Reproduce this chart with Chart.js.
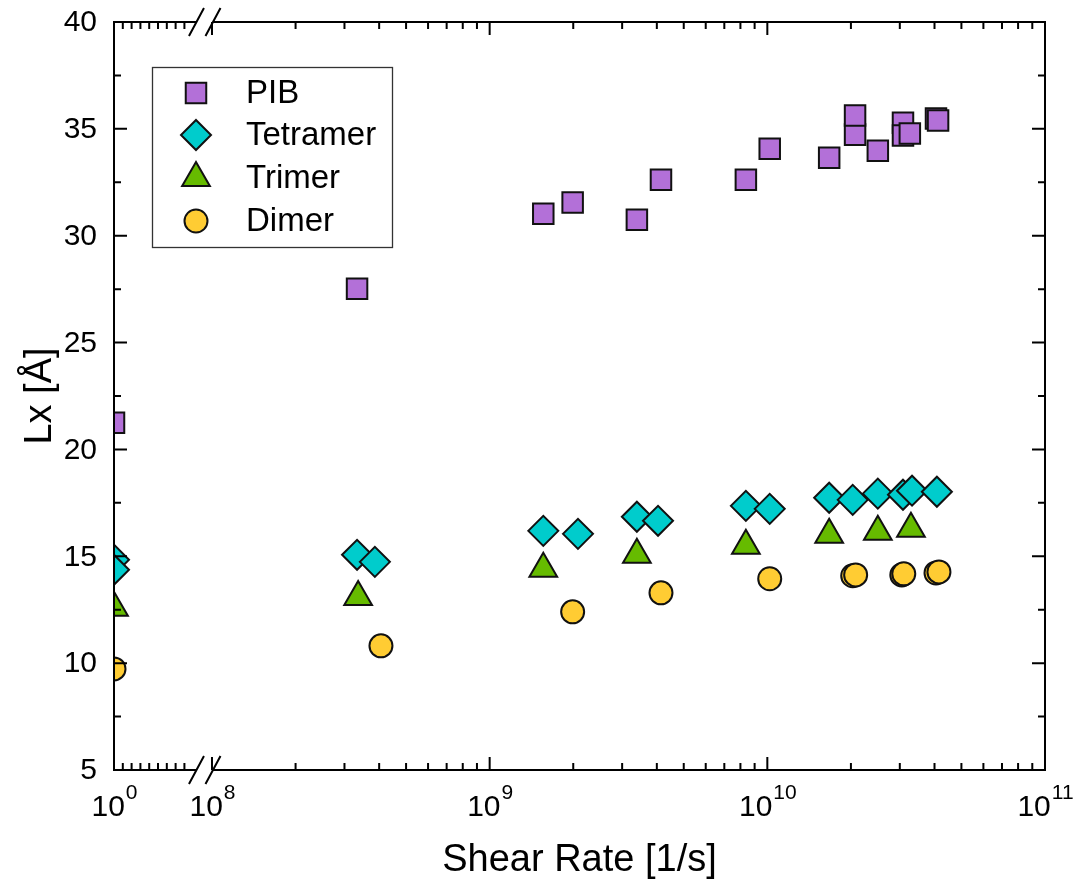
<!DOCTYPE html>
<html>
<head>
<meta charset="utf-8">
<title>Lx vs Shear Rate</title>
<script src="https://cdn.jsdelivr.net/npm/chart.js@4.4.1/dist/chart.umd.min.js"></script>
<style>
  html, body { margin: 0; padding: 0; background: #fff; }
  #wrap { width: 1073px; height: 881px; }
</style>
</head>
<body>
<div id="wrap"><canvas id="chart" width="1073" height="881"></canvas></div>
<script>
// shear rate in 1/s; rate 1 is the equilibrium run, drawn at 10^0
const seriesNames = ['PIB', 'Tetramer', 'Trimer', 'Dimer'];

const pibRate = [1, 3.33e8, 1.56e9, 1.99e9, 3.39e9, 4.14e9, 8.37e9, 1.02e10, 1.67e10, 2.07e10, 2.07e10, 2.50e10, 3.08e10, 3.08e10, 3.26e10, 4.05e10, 4.12e10];
const pibLx   = [21.25, 27.52, 31.03, 31.55, 30.75, 32.62, 32.62, 34.07, 33.65, 34.73, 35.62, 33.98, 35.29, 34.69, 34.78, 35.48, 35.39];

const tetRate = [1, 1, 3.33e8, 3.86e8, 1.56e9, 2.08e9, 3.39e9, 4.04e9, 8.37e9, 1.02e10, 1.67e10, 2.03e10, 2.50e10, 3.08e10, 3.32e10, 4.08e10];
const tetLx   = [14.84, 14.37, 15.07, 14.74, 16.19, 16.05, 16.85, 16.66, 17.36, 17.22, 17.74, 17.64, 17.93, 17.88, 18.07, 18.02];

const triRate = [1, 3.36e8, 1.56e9, 3.39e9, 8.37e9, 1.67e10, 2.50e10, 3.29e10];
const triLx   = [12.59, 13.10, 14.42, 15.07, 15.49, 16.01, 16.15, 16.29];

const dimRate = [1, 4.06e8, 1.99e9, 4.14e9, 1.02e10, 2.03e10, 2.08e10, 3.05e10, 3.10e10, 4.05e10, 4.15e10];
const dimLx   = [9.73, 10.81, 12.40, 13.29, 13.95, 14.09, 14.13, 14.13, 14.18, 14.22, 14.27];

const yTicks = [5, 10, 15, 20, 25, 30, 35, 40];
const xTickExponents = [0, 8, 9, 10, 11];

// broken log axis: 10^0..10^8 squeezed into a short stub, then full decades from 10^8 up
const STUB_DECADE = 0.0317;
const GAP_START = 0.3529;
const BREAK_A = 0.297, BREAK_B = 0.3565;
function axisPos(rate) {
  const d = Math.log10(rate);
  return d < 8 ? d * STUB_DECADE : GAP_START + (d - 8);
}

const styles = [
  { shape: 'rect',     r: 14.5, fill: '#B370D8' },
  { shape: 'rectRot',  r: 15,   fill: '#00CCCC' },
  { shape: 'triangle', r: 16,   fill: '#66BB00' },
  { shape: 'circle',   r: 11.5, fill: '#FFCC33' }
];
const rates = [pibRate, tetRate, triRate, dimRate];
const values = [pibLx, tetLx, triLx, dimLx];

const datasets = seriesNames.map((name, i) => ({
  label: name,
  data: rates[i].map((r, k) => ({ x: axisPos(r), y: values[i][k] })),
  pointStyle: styles[i].shape,
  pointRadius: styles[i].r,
  pointBackgroundColor: styles[i].fill,
  pointBorderColor: '#111',
  pointBorderWidth: 2,
  clip: 0
}));

function marker(ctx, s, x, y) {
  const r = s.r;
  ctx.beginPath();
  if (s.shape === 'rect') {
    const h = r * Math.SQRT1_2;
    ctx.rect(x - h, y - h, 2 * h, 2 * h);
  } else if (s.shape === 'rectRot') {
    ctx.moveTo(x, y - r); ctx.lineTo(x + r, y); ctx.lineTo(x, y + r); ctx.lineTo(x - r, y);
    ctx.closePath();
  } else if (s.shape === 'triangle') {
    ctx.moveTo(x, y - r);
    ctx.lineTo(x + r * 0.866, y + r / 2);
    ctx.lineTo(x - r * 0.866, y + r / 2);
    ctx.closePath();
  } else {
    ctx.arc(x, y, r, 0, Math.PI * 2);
  }
  ctx.fillStyle = s.fill;
  ctx.fill();
  ctx.lineWidth = 2;
  ctx.strokeStyle = '#111';
  ctx.stroke();
}

const FONT = '"Liberation Sans", Arial, sans-serif';

// keep the markers inside the plot frame (points at 10^0 sit on the left axis)
const clipToArea = {
  id: 'clipToArea',
  beforeDatasetsDraw(chart) {
    const a = chart.chartArea;
    chart.ctx.save();
    chart.ctx.beginPath();
    chart.ctx.rect(a.left, a.top, a.right - a.left, a.bottom - a.top);
    chart.ctx.clip();
  },
  afterDatasetsDraw(chart) {
    chart.ctx.restore();
  }
};

const frame = {
  id: 'frame',
  afterDraw(chart) {
    const { ctx, chartArea: a, scales: { x, y } } = chart;
    ctx.save();
    ctx.strokeStyle = '#000';
    ctx.lineWidth = 2;

    const bA = x.getPixelForValue(BREAK_A), bB = x.getPixelForValue(BREAK_B);

    // frame with gaps at the axis break
    ctx.beginPath();
    ctx.moveTo(a.left, a.top); ctx.lineTo(a.left, a.bottom + 1);
    ctx.moveTo(a.right, a.top - 1); ctx.lineTo(a.right, a.bottom + 1);
    for (const yy of [a.top, a.bottom]) {
      ctx.moveTo(a.left - 1, yy); ctx.lineTo(bA, yy);
      ctx.moveTo(bB, yy); ctx.lineTo(a.right + 1, yy);
    }
    ctx.stroke();

    // break marks
    ctx.beginPath();
    for (const yy of [a.top, a.bottom]) {
      for (const bx of [bA, bB]) {
        ctx.moveTo(bx - 7.5, yy + 14);
        ctx.lineTo(bx + 7.5, yy - 14);
      }
    }
    ctx.stroke();

    // x ticks
    const major = 13, minor = 7;
    const xt = [];
    for (let d = 1; d <= 8; d++) xt.push([d * STUB_DECADE, minor]);
    for (const e of xTickExponents) xt.push([axisPos(Math.pow(10, e)), major]);
    for (let e = 8; e < 11; e++) for (let m = 2; m <= 9; m++) xt.push([axisPos(m * Math.pow(10, e)), minor]);
    ctx.beginPath();
    for (const [v, len] of xt) {
      const px = x.getPixelForValue(v);
      ctx.moveTo(px, a.bottom); ctx.lineTo(px, a.bottom - len);
      ctx.moveTo(px, a.top); ctx.lineTo(px, a.top + len);
    }
    // y ticks
    for (let v = 5; v <= 40; v += 2.5) {
      const py = y.getPixelForValue(v);
      const len = (v % 5 === 0) ? major : minor;
      ctx.moveTo(a.left, py); ctx.lineTo(a.left + len, py);
      ctx.moveTo(a.right, py); ctx.lineTo(a.right - len, py);
    }
    ctx.stroke();

    // tick labels
    ctx.fillStyle = '#000';
    ctx.font = '30px ' + FONT;
    ctx.textAlign = 'right';
    ctx.textBaseline = 'middle';
    for (const v of yTicks) ctx.fillText(String(v), a.left - 17, y.getPixelForValue(v) + 1);

    ctx.textBaseline = 'alphabetic';
    ctx.textAlign = 'left';
    for (const e of xTickExponents) {
      const px = x.getPixelForValue(axisPos(Math.pow(10, e)));
      ctx.font = '30px ' + FONT;
      const wBase = ctx.measureText('10').width;
      ctx.font = '21px ' + FONT;
      const wExp = ctx.measureText(String(e)).width;
      const start = px - (wBase + wExp) / 2;
      ctx.font = '30px ' + FONT;
      ctx.fillText('10', start, 816);
      ctx.font = '21px ' + FONT;
      ctx.fillText(String(e), start + wBase + 1, 799);
    }

    // axis titles
    ctx.font = '38px ' + FONT;
    ctx.textAlign = 'center';
    ctx.fillText('Shear Rate [1/s]', (a.left + a.right) / 2, 871);
    ctx.save();
    ctx.translate(51, (a.top + a.bottom) / 2);
    ctx.rotate(-Math.PI / 2);
    ctx.fillText('Lx [Å]', 0, 0);
    ctx.restore();

    // legend
    ctx.lineWidth = 1.3;
    ctx.strokeStyle = '#333';
    ctx.strokeRect(152.5, 67.5, 240, 180);
    const rows = [93, 135, 178, 221];
    ctx.font = '33px ' + FONT;
    ctx.textAlign = 'left';
    ctx.textBaseline = 'middle';
    chart.data.datasets.forEach((ds, i) => {
      marker(ctx, styles[i], 196, rows[i]);
      ctx.fillStyle = '#000';
      ctx.fillText(ds.label, 246, rows[i] + 1);
    });
    ctx.restore();
  }
};

new Chart(document.getElementById('chart'), {
  type: 'scatter',
  data: { datasets },
  options: {
    responsive: false,
    animation: false,
    layout: { padding: { left: 114, top: 22, right: 28, bottom: 111 } },
    scales: {
      x: { type: 'linear', display: false, min: 0, max: axisPos(1e11) },
      y: { type: 'linear', display: false, min: 5, max: 40 }
    },
    plugins: { legend: { display: false }, tooltip: { enabled: false } }
  },
  plugins: [clipToArea, frame]
});
</script>
</body>
</html>
